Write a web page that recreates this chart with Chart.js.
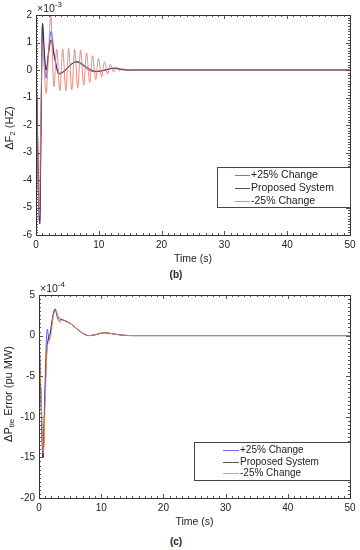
<!DOCTYPE html>
<html>
<head>
<meta charset="utf-8">
<script src="https://cdn.jsdelivr.net/npm/chart.js@4.4.0/dist/chart.umd.min.js"></script>
<style>
body { margin: 0; background: #fff; width: 360px; height: 550px; position: relative; overflow: hidden; font-family: 'Liberation Sans', Arial, sans-serif; }
canvas { position: absolute; left: 0; }
#chart-b { top: 0; }
#chart-c { top: 280px; }
.cap { position: absolute; left: -4px; width: 360px; text-align: center; font-size: 10px; font-weight: bold; color: #222; }
</style>
</head>
<body>
<canvas id="chart-b" width="360" height="270"></canvas>
<canvas id="chart-c" width="360" height="253"></canvas>
<div class="cap" style="top:269px">(b)</div>
<div class="cap" style="top:536px">(c)</div>
<script>
// (b) frequency deviation, x10^-3 Hz
const tPlusB  = [0, 0.2, 0.4, 0.6, 0.8, 1.0, 1.3, 1.6, 2.0, 2.4, 2.9, 3.6, 4.5, 5.5, 6.4, 7.5, 8.5, 9.6, 11.0, 12.3, 13.5, 14.5, 50];
const fPlus   = [0, -1.6, -4.4, -5.5, -2.2, 1.6, 0.6, -0.3, 0.7, 1.4, 0.6, -0.15, -0.05, 0.2, 0.3, 0.15, -0.02, -0.06, 0.0, 0.06, 0.02, 0, 0];
const tPropB  = [0, 0.2, 0.4, 0.6, 0.8, 1.05, 1.3, 1.6, 2.0, 2.4, 2.9, 3.7, 4.6, 5.6, 6.6, 7.6, 8.6, 9.8, 11.0, 12.4, 13.5, 14.5, 50];
const fProp   = [0, -1.7, -4.6, -5.6, -2.0, 1.7, 0.8, 0.0, 0.6, 1.1, 0.5, -0.12, -0.02, 0.2, 0.3, 0.18, 0.02, -0.05, 0.0, 0.07, 0.03, 0, 0];
const tMinusB = [0, 0.2, 0.5, 0.75, 1.0, 1.3, 1.6, 2.0, 2.35, 2.85, 3.3, 3.8, 4.25, 4.75, 5.2, 5.7, 6.15, 6.65, 7.1,
                 7.6, 8.05, 8.55, 9.0, 9.5, 9.95, 10.45, 10.9, 11.4, 11.85, 12.35, 12.8, 13.3, 13.75, 14.25, 14.7, 15.5, 50];
const fMinus  = [0, -2.0, -5.3, -2.0, 1.0, 0.1, -0.85, 0.6, 2.0, -0.6, 0.75, -0.75, 0.75, -0.75, 0.78, -0.72, 0.75, -0.65, 0.72,
                 -0.55, 0.62, -0.45, 0.52, -0.35, 0.42, -0.25, 0.3, -0.15, 0.2, -0.08, 0.12, -0.03, 0.06, -0.01, 0.02, 0, 0];

// (c) tie-line power error, x10^-4 pu MW
const tPlusC  = [0, 0.3, 0.65, 0.9, 1.15, 1.35, 1.6, 1.9, 2.3, 2.6, 3.0, 3.3, 3.6, 4.2, 5.0, 6.0, 7.0, 8.0, 9.0, 10.5, 12.0, 13.5, 15, 50];
const pPlus   = [0, -7, -15, -8, -1.2, 0.8, -0.6, 0.5, 2.6, 3.3, 2.0, 1.8, 2.0, 1.8, 1.5, 0.9, 0.3, 0.0, 0.1, 0.35, 0.2, 0.05, 0, 0];
const tPropC  = [0, 0.3, 0.65, 0.9, 1.2, 1.5, 1.8, 2.2, 2.6, 2.9, 3.3, 4.0, 5.0, 6.0, 7.0, 8.0, 9.0, 10.5, 12.0, 13.5, 15, 50];
const pProp   = [0, -7.2, -15, -9, -2.5, -0.3, 0.3, 2.3, 3.2, 2.6, 2.1, 1.9, 1.5, 0.9, 0.3, 0.0, 0.1, 0.35, 0.2, 0.05, 0, 0];
const tMinusC = [0, 0.3, 0.7, 1.0, 1.3, 1.6, 1.9, 2.3, 2.7, 3.0, 3.4, 3.8, 4.4, 5.0, 6.0, 7.0, 8.0, 9.0, 10.5, 12.0, 13.5, 15, 50];
const pMinus  = [0, -6.5, -14.5, -8, -1.8, -0.8, 0.0, 2.4, 3.1, 2.4, 1.6, 2.0, 1.7, 1.5, 0.9, 0.3, 0.0, 0.1, 0.35, 0.2, 0.05, 0, 0];

const seriesNames = ['+25% Change', 'Proposed System', '-25% Change'];
const xTicks = [0, 10, 20, 30, 40, 50];
const yTicksB = [-6, -5, -4, -3, -2, -1, 0, 1, 2];
const yTicksC = [-20, -15, -10, -5, 0, 5];

const FONT = "'Liberation Sans', Arial, sans-serif";
const TXT = '#222';

const pts = (t, v) => t.map((x, i) => ({ x: x, y: v[i] }));

const framePlugin = {
    id: 'frame',
    afterDatasetsDraw(chart, args, o) {
        const { ctx, chartArea: a, scales: { x, y } } = chart;
        ctx.save();
        ctx.strokeStyle = '#555';
        ctx.lineWidth = 1;
        ctx.beginPath();
        const nx = Math.round((x.max - x.min) / o.xMinor);
        for (let i = 0; i <= nx; i++) {
            const v = x.min + i * o.xMinor;
            const px = Math.round(x.getPixelForValue(v)) + 0.5;
            const len = (i % o.xEvery === 0) ? 4 : 2;
            ctx.moveTo(px, a.bottom); ctx.lineTo(px, a.bottom - len);
            ctx.moveTo(px, a.top); ctx.lineTo(px, a.top + len);
        }
        const ny = Math.round((y.max - y.min) / o.yMinor);
        for (let i = 0; i <= ny; i++) {
            const v = y.min + i * o.yMinor;
            const py = Math.round(y.getPixelForValue(v)) + 0.5;
            const len = (i % o.yEvery === 0) ? 4 : 2;
            ctx.moveTo(a.left, py); ctx.lineTo(a.left + len, py);
            ctx.moveTo(a.right, py); ctx.lineTo(a.right - len, py);
        }
        ctx.stroke();
        ctx.strokeStyle = '#333';
        ctx.strokeRect(Math.round(a.left) + 0.5, Math.round(a.top) + 0.5,
            Math.round(a.right - a.left), Math.round(a.bottom - a.top));

        // exponent above the y axis
        ctx.fillStyle = TXT;
        ctx.textBaseline = 'alphabetic';
        ctx.textAlign = 'left';
        ctx.font = `10.5px ${FONT}`;
        ctx.fillText('\u00d710', a.left + 1, a.top - 3);
        const w = ctx.measureText('\u00d710').width;
        ctx.font = `8px ${FONT}`;
        ctx.fillText(o.exp, a.left + 1 + w, a.top - 8);

        // y axis title with subscript
        ctx.translate(o.yLabelX, o.yLabelY);
        ctx.rotate(-Math.PI / 2);
        const parts = [[o.yMain, 11, 0], [o.ySub, 8, 3], [o.yRest, 11, 0]];
        let total = 0;
        parts.forEach(p => { ctx.font = `${p[1]}px ${FONT}`; total += ctx.measureText(p[0]).width; });
        let cx = -total / 2;
        ctx.textBaseline = 'middle';
        parts.forEach(p => {
            ctx.font = `${p[1]}px ${FONT}`;
            ctx.fillText(p[0], cx, p[2]);
            cx += ctx.measureText(p[0]).width;
        });
        ctx.restore();

        // legend box
        const L = o.legend;
        ctx.save();
        ctx.fillStyle = '#fff';
        ctx.fillRect(L.x0, L.y0, L.x1 - L.x0, L.y1 - L.y0);
        ctx.strokeStyle = '#444';
        ctx.strokeRect(L.x0 + 0.5, L.y0 + 0.5, L.x1 - L.x0, L.y1 - L.y0);
        ctx.font = `${L.size}px ${FONT}`;
        ctx.textBaseline = 'middle';
        ctx.textAlign = 'left';
        seriesNames.forEach((name, i) => {
            const yy = L.rows[i];
            ctx.strokeStyle = L.colors[i];
            ctx.beginPath();
            ctx.moveTo(L.lx0, yy + 0.5); ctx.lineTo(L.lx1, yy + 0.5);
            ctx.stroke();
            ctx.fillStyle = TXT;
            ctx.fillText(name, L.lx1 + 1, yy);
        });
        ctx.restore();
    }
};

function makeChart(id, sets, yMin, yMax, yTicks, yAxisW, frameOpts) {
    return new Chart(document.getElementById(id), {
        type: 'line',
        data: {
            datasets: sets.map(s => ({
                data: s.data,
                borderColor: s.color,
                borderWidth: 1,
                pointRadius: 0,
                fill: false,
                cubicInterpolationMode: 'monotone'
            }))
        },
        options: {
            responsive: false,
            animation: false,
            events: [],
            layout: { padding: { top: 15, right: 10, left: 0, bottom: 0 } },
            scales: {
                x: {
                    type: 'linear', min: 0, max: 50,
                    afterBuildTicks: ax => { ax.ticks = xTicks.map(v => ({ value: v })); },
                    afterFit: ax => { ax.height = 35; },
                    grid: { display: false, drawTicks: false },
                    border: { display: false },
                    ticks: { padding: 4, color: TXT, font: { size: 10, family: FONT } },
                    title: { display: true, text: 'Time (s)', color: TXT, padding: { top: 2, bottom: 5 }, font: { size: 10.5, family: FONT } }
                },
                y: {
                    type: 'linear', min: yMin, max: yMax,
                    afterBuildTicks: ax => { ax.ticks = yTicks.map(v => ({ value: v })); },
                    afterFit: ax => { ax.width = yAxisW; },
                    grid: { display: false, drawTicks: false },
                    border: { display: false },
                    ticks: { padding: 4, color: TXT, font: { size: 10, family: FONT } }
                }
            },
            plugins: {
                legend: { display: false },
                tooltip: { enabled: false },
                frame: frameOpts
            }
        },
        plugins: [framePlugin]
    });
}

const blue = 'rgba(80, 80, 235, 0.9)';
const dark = '#3d2340';
const redB = 'rgba(220, 125, 110, 0.85)';
const redC = 'rgba(229, 154, 92, 0.9)';

makeChart('chart-b', [
    { data: pts(tMinusB, fMinus), color: redB },
    { data: pts(tPropB, fProp), color: dark },
    { data: pts(tPlusB, fPlus), color: blue }
], -6, 2, yTicksB, 36, {
    xMinor: 1, xEvery: 10, yMinor: 0.1, yEvery: 10, exp: '-3',
    yLabelX: 10, yLabelY: 128, yMain: '\u0394F', ySub: '2', yRest: ' (HZ)',
    legend: { x0: 217, y0: 167, x1: 350, y1: 207, lx0: 235, lx1: 250, rows: [175, 188, 201], size: 10.5,
              colors: ['#7070ff', '#555', '#d8917f'] }
});

makeChart('chart-c', [
    { data: pts(tMinusC, pMinus), color: redC },
    { data: pts(tPropC, pProp), color: dark },
    { data: pts(tPlusC, pPlus), color: blue }
], -20, 5, yTicksC, 39, {
    xMinor: 1, xEvery: 10, yMinor: 0.5, yEvery: 10, exp: '-4',
    yLabelX: 9, yLabelY: 114, yMain: '\u0394P', ySub: 'tie', yRest: ' Error (pu MW)',
    legend: { x0: 194, y0: 162, x1: 350, y1: 200, lx0: 223, lx1: 239, rows: [170, 182, 193], size: 10,
              colors: ['#7070ff', '#555', '#e6a275'] }
});
</script>
</body>
</html>
